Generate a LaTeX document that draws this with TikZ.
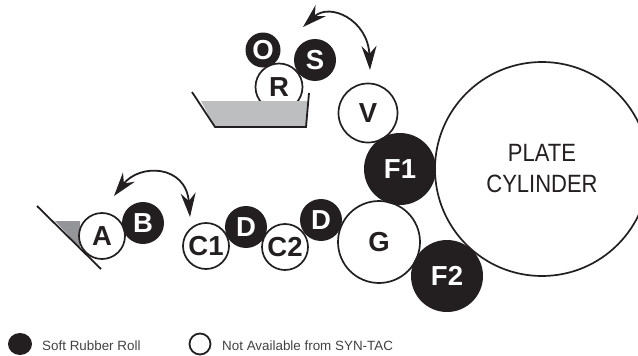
\documentclass[tikz,border=0pt]{standalone}
\usepackage{fontspec}
\setmainfont{Liberation Sans}
\newfontfamily\narrowsans[FakeStretch=0.88]{Liberation Sans}
\usetikzlibrary{arrows.meta,shapes.geometric}
\definecolor{inkblack}{HTML}{231F20}
\definecolor{traygray}{HTML}{BCBEC0}
\definecolor{pangray}{HTML}{939598}
\pgfkeys{tikz/softroll/.style={circle, fill=inkblack, text=white, inner sep=0pt,
                                   font=\fontsize{27.5}{27.5}\selectfont\bfseries}}
\pgfkeys{tikz/openroll/.style={circle, draw=inkblack, line width=1.7pt, fill=white, text=inkblack, inner sep=0pt,
                                   font=\fontsize{27.5}{27.5}\selectfont\bfseries}}
\pgfkeys{tikz/legendtext/.style={anchor=west, inner sep=0pt, text=inkblack!85,
                                   font=\fontsize{13.4}{14}\selectfont}}
\pgfkeys{tikz/swingarrow/.style={line width=1.8pt, draw=inkblack,
                                   {Stealth[length=24pt,width=15pt,inset=8pt]}-{Stealth[length=24pt,width=15pt,inset=8pt]}}}
\begin{document}
\begin{tikzpicture}[x=1pt,y=-1pt]
    \useasboundingbox (0,0) rectangle (638,356);
    % upper pan and its rolls
    \node [openroll,minimum size=47pt] (R) at (279,87) {\raisebox{-3pt}{R}};
    \fill [traygray] (201,101) -- (215,127) -- (307,127) -- (308,101) -- cycle;
    \draw [inkblack,line width=1.8pt] (192,92) -- (215,127) -- (306,127) -- (309,93);
    \node [softroll,minimum size=35pt] (O) at (263,50) {O};
    \node [softroll,minimum size=42pt] (S) at (315,60) {S};
    % lower pan
    \fill [pangray] (55,221) -- (80,221) -- (80,248) -- cycle;
    \draw [inkblack,line width=1.8pt] (37,206) -- (101,269);
    \node [openroll,minimum size=46pt] (A) at (102,236) {A};
    \node [softroll,minimum size=42pt] (B) at (143,223) {B};
    % roll train
    \node [softroll,minimum size=42pt] (D1) at (246,227) {D};
    \node [softroll,minimum size=42pt] (D2) at (321,220) {D};
    \node [openroll,minimum size=46pt] (C1) at (206,246) {C1};
    \node [openroll,minimum size=46pt] (C2) at (285,247) {C2};
    \node [openroll,minimum size=59pt] (V) at (368,113) {V};
    \node [openroll,minimum size=82pt] (G) at (379,242) {G};
    \node [openroll,minimum size=214pt,font=\fontsize{25}{31}\narrowsans,align=center] (plate) at (542,169) {PLATE\\CYLINDER};
    \node [softroll,minimum size=72pt] (F1) at (400,169) {F1};
    \node [softroll,minimum size=72pt] (F2) at (447,276) {\raisebox{-2pt}{F2}};
    % swing arrows
    \coordinate (swingS) at (303,27);
    \coordinate (swingV) at (370,70);
    \coordinate (swingB) at (114,196);
    \coordinate (swingC) at (190,217);
    \draw [swingarrow] (swingS) .. controls (330,2) and (368,20) .. (swingV);
    \draw [swingarrow] (swingB) .. controls (140,163) and (186,165) .. (swingC);
    % legend
    \node [ellipse,fill=inkblack,minimum width=24pt,minimum height=22pt,inner sep=0pt] (softkey) at (20,344) {};
    \node [legendtext] (softtext) at (42,346) {Soft Rubber Roll};
    \node [circle,draw=inkblack,line width=1.8pt,minimum size=21pt,inner sep=0pt] (openkey) at (200,344) {};
    \node [legendtext] (opentext) at (222,346) {Not Available from SYN-TAC};
\end{tikzpicture}
\end{document}
